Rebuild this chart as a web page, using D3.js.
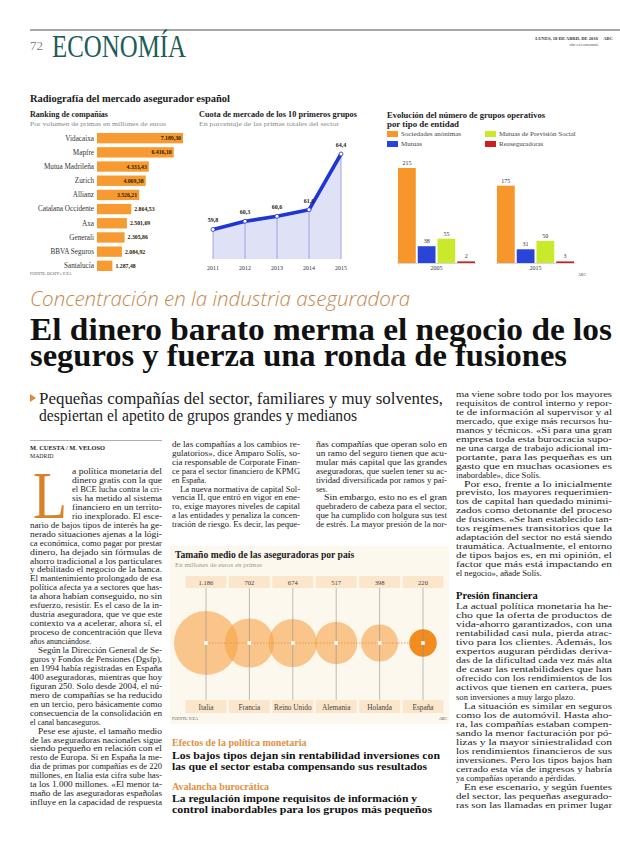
<!DOCTYPE html>
<html><head><meta charset="utf-8">
<script src="https://cdn.jsdelivr.net/npm/d3@7"></script>
<style>body{margin:0;background:#fff}svg{display:block}</style>
</head><body>
<svg id="page" width="620" height="846"></svg>
<script>
// ---------- DATA ----------
const rankCompanies = ["Vidacaixa","Mapfre","Mutua Madrileña","Zurich","Allianz","Catalana Occidente","Axa","Generali","BBVA Seguros","Santalucía"];
const rankValues = [7189.30,6416.10,4333.43,4069.38,3526.21,2864.53,2501.69,2305.86,2084.92,1287.48];
const shareYears = ["2011","2012","2013","2014","2015"];
const shareValues = [59.8,60.3,60.6,61.0,64.4];
const groupYears = ["2005","2015"];
const entityTypes = ["Sociedades anónimas","Mutuas","Mutuas de Previsión Social","Reaseguradoras"];
const entityColors = ["#f7962b","#2a44d8","#c9ea2a","#cc1f1f"];
const groups2005 = [215,38,55,2];
const groups2015 = [175,31,50,3];
const countries = ["Italia","Francia","Reino Unido","Alemania","Holanda","España"];
const avgSize = [1186,702,674,517,398,220];

const col1 = [
"a política monetaria del","dinero gratis con la que","el BCE lucha contra la cri-","sis ha metido al sistema","financiero en un territo-","rio inexplorado. El esce-",
"nario de bajos tipos de interés ha ge-","nerado situaciones ajenas a la lógi-","ca económica, como pagar por prestar","dinero, ha dejado sin fórmulas de","ahorro tradicional a los particulares","y debilitado el negocio de la banca.","El mantenimiento prolongado de esa","política afecta ya a sectores que has-","ta ahora habían conseguido, no sin","esfuerzo, resistir. Es el caso de la in-","dustria aseguradora, que ve que este","contexto va a acelerar, ahora sí, el","proceso de concentración que lleva","años anunciándose.|",
">Según la Dirección General de Se-","guros y Fondos de Pensiones (Dgsfp),","en 1994 había registradas en España","400 aseguradoras, mientras que hoy","figuran 250. Solo desde 2004, el nú-","mero de compañías se ha reducido","en un tercio, pero básicamente como","consecuencia de la consolidación en","el canal bancaseguros.|",
">Pese ese ajuste, el tamaño medio","de las aseguradoras nacionales sigue","siendo pequeño en relación con el","resto de Europa. Si en España la me-","dia de primas por compañías es de 220","millones, en Italia esta cifra sube has-","ta los 1.000 millones. «El menor ta-","maño de las aseguradoras españolas","influye en la capacidad de respuesta"];
const col2 = ["de las compañías a los cambios re-","gulatorios», dice Amparo Solís, so-","cia responsable de Corporate Finan-","ce para el sector financiero de KPMG","en España.|",">La nueva normativa de capital Sol-","vencia II, que entró en vigor en ene-","ro, exige mayores niveles de capital","a las entidades y penaliza la concen-","tración de riesgo. Es decir, las peque-"];
const col3 = ["ñas compañías que operan solo en","un ramo del seguro tienen que acu-","mular más capital que las grandes","aseguradoras, que suelen tener su ac-","tividad diversificada por ramos y paí-","ses.|",">Sin embargo, esto no es el gran","quebradero de cabeza para el sector,","que ha cumplido con holgura sus test","de estrés. La mayor presión de la nor-"];
const col4a = ["ma viene sobre todo por los mayores","requisitos de control interno y repor-","te de información al supervisor y al","mercado, que exige más recursos hu-","manos y técnicos. «Si para una gran","empresa toda esta burocracia supo-","ne una carga de trabajo adicional im-","portante, para las pequeñas es un","gasto que en muchas ocasiones es","inabordable», dice Solís.|",">Por eso, frente a lo inicialmente","previsto, los mayores requerimien-","tos de capital han quedado minimi-","zados como detonante del proceso","de fusiones. «Se han establecido tan-","tos regímenes transitorios que la","adaptación del sector no está siendo","traumática. Actualmente, el entorno","de tipos bajos es, en mi opinión, el","factor que más está impactando en","el negocio», añade Solís.|"];
const col4b = ["La actual política monetaria ha he-","cho que la oferta de productos de","vida-ahorro garantizados, con una","rentabilidad casi nula, pierda atrac-","tivo para los clientes. Además, los","expertos auguran pérdidas deriva-","das de la dificultad cada vez más alta","de casar las rentabilidades que han","ofrecido con los rendimientos de los","activos que tienen en cartera, pues","son inversiones a muy largo plazo.|",">La situación es similar en seguros","como los de automóvil. Hasta aho-","ra, las compañías estaban compen-","sando la menor facturación por pó-","lizas y la mayor siniestralidad con","los rendimientos financieros de sus","inversiones. Pero los tipos bajos han","cerrado esta vía de ingresos y habría","ya compañías operando a pérdidas.|",">En ese escenario, y según fuentes","del sector, las pequeñas asegurado-","ras son las llamadas en primer lugar"];

// ---------- SETUP ----------
const es = d3.formatLocale({decimal:",",thousands:".",grouping:[3],currency:["","€"]});
const f2 = es.format(",.2f"), f1 = es.format(",.1f"), f0 = es.format(",d");
const SERIF = "'Liberation Serif','DejaVu Serif',serif";
const svg = d3.select("#page");
function T(g,x,y,s,o={}){
  const t=g.append("text").attr("x",x).attr("y",y).text(s)
   .attr("font-family",o.ff||SERIF).attr("font-size",o.fs||7).attr("fill",o.fill||"#222");
  if(o.fw) t.attr("font-weight",o.fw);
  if(o.fst) t.attr("font-style",o.fst);
  if(o.anchor) t.attr("text-anchor",o.anchor);
  if(o.tl) t.attr("textLength",o.tl).attr("lengthAdjust","spacingAndGlyphs");
  return t;
}

// ---------- HEADER ----------
svg.append("line").attr("x1",30).attr("x2",620).attr("y1",30).attr("y2",30).attr("stroke","#8a8a8a").attr("stroke-width",1.5);
T(svg,30,50,"72",{fs:13,fill:"#888"});
T(svg,52,57,"ECONOMÍA",{fs:31,fill:"#1d5c58",tl:134});
T(svg,598,40,"LUNES, 18 DE ABRIL DE 2016",{fs:4.6,fill:"#333",anchor:"end",fw:"bold"});
T(svg,613,40,"ABC",{fs:4.6,fill:"#333",anchor:"end",fw:"bold"});
T(svg,598,46,"abc.es/economia",{fs:4.3,fill:"#555",anchor:"end"});

T(svg,30,102,"Radiografía del mercado asegurador español",{fs:10,fw:"bold",fill:"#1a1a1a",tl:200});

// ---------- RANKING ----------
const gR = svg.append("g");
T(gR,30,117,"Ranking de compañías",{fs:7.8,fw:"bold",fill:"#222",tl:78});
T(gR,30,125.5,"Por volumen de primas en millones de euros",{fs:6.4,fill:"#888",tl:136});
const yR = d3.scaleBand().domain(rankCompanies).range([133,271]).paddingInner(0.27);
const xR = d3.scaleLinear().domain([0,7189.30]).range([97,183]);
gR.selectAll("rect").data(rankValues).join("rect")
  .attr("x",xR(0)).attr("y",(d,i)=>yR(rankCompanies[i]))
  .attr("width",d=>xR(d)-xR(0)).attr("height",yR.bandwidth()).attr("fill","#f79a31");
gR.selectAll("text.lab").data(rankCompanies).join("text").attr("class","lab")
  .attr("x",94).attr("y",d=>yR(d)+yR.bandwidth()/2+2.4).attr("text-anchor","end")
  .attr("font-family",SERIF).attr("font-size",7.2).attr("fill","#333").text(d=>d);
gR.selectAll("text.val").data(rankValues).join("text").attr("class","val")
  .attr("x",(d,i)=>i<5?xR(d)-2:xR(d)+3).attr("y",(d,i)=>yR(rankCompanies[i])+yR.bandwidth()/2+2)
  .attr("text-anchor",(d,i)=>i<5?"end":"start")
  .attr("font-family",SERIF).attr("font-size",5.8).attr("font-weight","bold").attr("fill","#2a1a00").text(d=>f2(d));
T(gR,30,275,"FUENTE: DGSFP e ICEA",{fs:3.9,fill:"#555"});

// ---------- LINE CHART ----------
const gL = svg.append("g");
T(gL,199,117,"Cuota de mercado de los 10 primeros grupos",{fs:7.8,fw:"bold",fill:"#222",tl:158});
T(gL,199,125.5,"En porcentaje de las primas totales del sector",{fs:6.4,fill:"#888",tl:140});
const xL = d3.scalePoint().domain(shareYears).range([213,341]);
const yL = d3.scaleLinear().domain([58,64.4]).range([259,154]);
const pts = shareYears.map((y,i)=>({y, v:shareValues[i]}));
gL.append("path").datum(pts).attr("fill","#dfe1f7")
  .attr("d",d3.area().x(d=>xL(d.y)).y0(yL(58)).y1(d=>yL(d.v)));
gL.selectAll("line.v").data(pts).join("line").attr("class","v")
  .attr("x1",d=>xL(d.y)).attr("x2",d=>xL(d.y)).attr("y1",d=>yL(d.v)).attr("y2",yL(58))
  .attr("stroke","#8d96d6").attr("stroke-width",0.8);
gL.append("path").datum(pts).attr("fill","none").attr("stroke","#1f35d4").attr("stroke-width",3.6)
  .attr("stroke-linejoin","round").attr("d",d3.line().x(d=>xL(d.y)).y(d=>yL(d.v)));
gL.selectAll("circle").data(pts).join("circle").attr("cx",d=>xL(d.y)).attr("cy",d=>yL(d.v)).attr("r",2)
  .attr("fill","#fff").attr("stroke","#1f35d4").attr("stroke-width",0.8);
gL.selectAll("text.val").data(pts).join("text").attr("class","val")
  .attr("x",d=>xL(d.y)).attr("y",d=>yL(d.v)-7).attr("text-anchor","middle")
  .attr("font-family",SERIF).attr("font-size",6).attr("font-weight","bold").attr("fill","#222").text(d=>f1(d.v));
gL.selectAll("text.yr").data(shareYears).join("text").attr("class","yr")
  .attr("x",d=>xL(d)).attr("y",270).attr("text-anchor","middle")
  .attr("font-family",SERIF).attr("font-size",6).attr("fill","#333").text(d=>d);

// ---------- GROUPED BARS ----------
const gG = svg.append("g");
T(gG,387,118,"Evolución del número de grupos operativos",{fs:7.8,fw:"bold",fill:"#222",tl:158});
T(gG,387,126.5,"por tipo de entidad",{fs:7.8,fw:"bold",fill:"#222",tl:72});
const legPos = [[387,134],[387,144],[485,134],[485,144]];
entityTypes.forEach((e,i)=>{
  gG.append("rect").attr("x",legPos[i][0]).attr("y",legPos[i][1]-3).attr("width",11).attr("height",6).attr("fill",entityColors[i]);
  T(gG,legPos[i][0]+14,legPos[i][1]+2.3,e,{fs:7,fill:"#444"});
});
const x0 = d3.scaleBand().domain(groupYears).range([398,574]).paddingInner(0.222);
const x1 = d3.scaleBand().domain(entityTypes).range([0,x0.bandwidth()]).paddingInner(0.1);
const yG = d3.scaleLinear().domain([0,215]).range([263,168]);
const groupData = [groups2005,groups2015];
groupYears.forEach((yr,gi)=>{
  const g = gG.append("g").attr("transform",`translate(${x0(yr)},0)`);
  const dat = groupData[gi].map((v,i)=>({k:entityTypes[i],v,c:entityColors[i]}));
  g.selectAll("rect").data(dat).join("rect").attr("x",d=>x1(d.k)).attr("width",x1.bandwidth())
    .attr("y",d=>Math.min(yG(d.v),yG(0)-1.6)).attr("height",d=>Math.max(yG(0)-yG(d.v),1.6)).attr("fill",d=>d.c);
  g.selectAll("text").data(dat).join("text").attr("x",d=>x1(d.k)+x1.bandwidth()/2).attr("y",d=>Math.min(yG(d.v),yG(0)-1.6)-3)
    .attr("text-anchor","middle").attr("font-family",SERIF).attr("font-size",6).attr("fill","#333").text(d=>d.v);
  g.append("line").attr("x1",-1).attr("x2",x0.bandwidth()+1).attr("y1",yG(0)+0.5).attr("y2",yG(0)+0.5).attr("stroke","#bbb").attr("stroke-width",0.6);
  T(g,x0.bandwidth()/2,270,yr,{fs:6,fill:"#333",anchor:"middle"});
});
T(gG,586,276,"ABC",{fs:3.9,fill:"#444",anchor:"end"});

// ---------- HEADLINE ----------
T(svg,30,306,"Concentración en la industria aseguradora",{ff:"'Open Sans',sans-serif",fst:"italic",fw:300,fs:20,fill:"#c6874d",tl:380});
T(svg,30,340,"El dinero barato merma el negocio de los",{fs:31,fw:"bold",fill:"#111",tl:582});
T(svg,30,366,"seguros y fuerza una ronda de fusiones",{fs:31,fw:"bold",fill:"#111",tl:537});
svg.append("path").attr("d","M30,394 L36,398 L30,402 Z").attr("fill","#e0883a");
T(svg,39,404,"Pequeñas compañías del sector, familiares y muy solventes,",{fs:17,fill:"#222",tl:404});
T(svg,39,421,"despiertan el apetito de grupos grandes y medianos",{fs:17,fill:"#222",tl:318});

// ---------- BODY TEXT ----------
function column(lines,xa,xb,y0,step,fs,special){
  const g = svg.append("g");
  lines.forEach((raw,i)=>{
    let s = raw, indent = 0, last = false;
    if(s.startsWith(">")){s=s.slice(1); indent=8;}
    if(s.endsWith("|")){s=s.slice(0,-1); last=true;}
    const x = (special && special(i)) || (xa+indent);
    const t = T(g,x,y0+i*step,s,{fs:fs,fill:"#222"});
    if(!last){ t.attr("textLength",xb-x).attr("lengthAdjust","spacingAndGlyphs"); }
  });
  return g;
}
svg.append("line").attr("x1",30).attr("x2",162).attr("y1",440.5).attr("y2",440.5).attr("stroke","#999").attr("stroke-width",0.8);
T(svg,30,450,"M. CUESTA / M. VELOSO",{fs:6.4,fw:"bold",fill:"#222"});
T(svg,30,458,"MADRID",{fs:5.8,fill:"#222"});
T(svg,33,518,"L",{fs:68,fill:"#d9822b",tl:34});
column(col1,30,162,474,8.95,7.9,i=>i<6?72:null);
column(col2,172,300,447,8.9,7.9);
column(col3,316,447,447,8.9,7.9);
column(col4a,456,612,397,8.95,8.6);
T(svg,456,599,"Presión financiera",{fs:10.5,fw:"bold",fill:"#111"});
column(col4b,456,612,609,9.05,8.6);

// ---------- BUBBLE CHART ----------
const gB = svg.append("g");
gB.append("rect").attr("x",170).attr("y",546).attr("width",279).attr("height",178).attr("fill","#fdf8ee");
T(gB,175,558,"Tamaño medio de las aseguradoras por país",{fs:9.6,fw:"bold",fill:"#222"});
T(gB,175,567,"En millones de euros en primas",{fs:6.2,fill:"#999",tl:87});
const xB = d3.scalePoint().domain(countries).range([206,423]);
const rB = d3.scaleSqrt().domain([0,1186]).range([0,32]);
const cy = 643;
const bub = countries.map((c,i)=>({c,v:avgSize[i]}));
gB.selectAll("rect.top").data(bub).join("rect").attr("class","top")
  .attr("x",d=>xB(d.c)-20.5).attr("y",576).attr("width",41).attr("height",12).attr("fill","#fce6cb");
gB.selectAll("rect.bot").data(bub).join("rect").attr("class","bot")
  .attr("x",d=>xB(d.c)-20.5).attr("y",700).attr("width",41).attr("height",13).attr("fill","#fce6cb");
gB.selectAll("circle").data(bub).join("circle").attr("cx",d=>xB(d.c)).attr("cy",cy).attr("r",d=>rB(d.v))
  .attr("fill",d=>d.c==="España"?"#f28c1e":"#f7a043").attr("fill-opacity",d=>d.c==="España"?1:0.58);
gB.selectAll("line.v").data(bub).join("line").attr("class","v")
  .attr("x1",d=>xB(d.c)).attr("x2",d=>xB(d.c)).attr("y1",588).attr("y2",700)
  .attr("stroke","#8a8a8a").attr("stroke-width",0.7).attr("stroke-opacity",0.8);
gB.append("line").attr("x1",xB(countries[0])).attr("x2",xB(countries[5])).attr("y1",cy).attr("y2",cy)
  .attr("stroke","#e89a4c").attr("stroke-width",1).attr("stroke-dasharray","1.5,1.5");
gB.selectAll("rect.c").data(bub).join("rect").attr("class","c")
  .attr("x",d=>xB(d.c)-1.8).attr("y",cy-1.8).attr("width",3.6).attr("height",3.6).attr("fill","#fff");
gB.selectAll("text.val").data(bub).join("text").attr("class","val")
  .attr("x",d=>xB(d.c)).attr("y",584.5).attr("text-anchor","middle")
  .attr("font-family",SERIF).attr("font-size",6.6).attr("fill","#444").text(d=>f0(d.v));
gB.selectAll("text.lab").data(bub).join("text").attr("class","lab")
  .attr("x",d=>xB(d.c)).attr("y",709.5).attr("text-anchor","middle")
  .attr("font-family",SERIF).attr("font-size",7.3).attr("fill","#444").text(d=>d.c);
T(gB,172,720,"FUENTE: ICEA",{fs:3.9,fill:"#555"});
T(gB,447,720,"ABC",{fs:3.9,fill:"#444",anchor:"end"});

// ---------- SUBHEADS ----------
T(svg,172,746,"Efectos de la política monetaria",{fs:10,fw:"bold",fill:"#e0913f"});
T(svg,172,759,"Los bajos tipos dejan sin rentabilidad inversiones con",{fs:10.5,fw:"bold",fill:"#111",tl:268});
T(svg,172,770,"las que el sector estaba compensando sus resultados",{fs:10.5,fw:"bold",fill:"#111",tl:255});
T(svg,172,790,"Avalancha burocrática",{fs:10,fw:"bold",fill:"#e0913f"});
T(svg,172,802,"La regulación impone requisitos de información y",{fs:10.5,fw:"bold",fill:"#111",tl:245});
T(svg,172,813,"control inabordables para los grupos más pequeños",{fs:10.5,fw:"bold",fill:"#111",tl:260});
</script>
</body></html>
